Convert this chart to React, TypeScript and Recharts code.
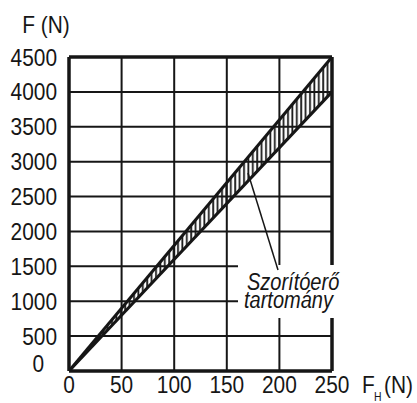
import React from "react"
import { ComposedChart, Line, Area, XAxis, YAxis, CartesianGrid, ReferenceLine } from "recharts"

// F_H (N) -> F (N), clamping force range
const forceH = [0, 250]
const forceUpper = [0, 4500]
const forceLower = [0, 4000]

const xTicks = [0, 50, 100, 150, 200, 250]
const yTicks = [0, 500, 1000, 1500, 2000, 2500, 3000, 3500, 4000, 4500]

const data = forceH.map((h, i) => ({
  h,
  upper: forceUpper[i],
  lower: forceLower[i],
  band: [forceLower[i], forceUpper[i]],
}))

const FONT = "'Liberation Sans', Arial, sans-serif"
const INK = "#161616"
const SQUEEZE = 0.87

// narrow text: regular sans squeezed horizontally
function Narrow({ x, y, anchor = "start", size = 24, italic = false, children }: any) {
  return (
    <text
      transform={`translate(${x},${y}) scale(${SQUEEZE},1)`}
      textAnchor={anchor}
      fontFamily={FONT}
      fontSize={size}
      fontStyle={italic ? "italic" : "normal"}
      fill={INK}
    >
      {children}
    </text>
  )
}

function YTick(props: any) {
  const { x, y, payload } = props
  const zero = payload.value === 0
  return (
    <Narrow x={zero ? x - 13 : x} y={(zero ? y - 8 : y) + 8.5} anchor="end">
      {payload.value}
    </Narrow>
  )
}

function XTick(props: any) {
  const { x, y, payload } = props
  return (
    <Narrow x={x} y={y + 17} anchor="middle">
      {payload.value}
    </Narrow>
  )
}

export default function App() {
  return (
    <div style={{ position: "absolute", left: 0, top: 0, width: 417, height: 403, background: "#fff" }}>
      <ComposedChart
        width={417}
        height={403}
        data={data}
        margin={{ top: 57, right: 85, left: 9, bottom: 0 }}
      >
        <defs>
          <pattern id="hatch" patternUnits="userSpaceOnUse" width="4.4" height="10">
            <line x1="2" y1="0" x2="2" y2="10" stroke={INK} strokeWidth="1.8" />
          </pattern>
        </defs>
        <CartesianGrid stroke={INK} strokeWidth={2} strokeOpacity={1} />
        <XAxis
          dataKey="h"
          type="number"
          domain={[0, 250]}
          ticks={xTicks}
          height={32}
          tickLine={false}
          tickSize={0}
          tickMargin={5}
          axisLine={{ stroke: INK, strokeWidth: 3.5 }}
          tick={<XTick />}
          interval={0}
        />
        <YAxis
          type="number"
          domain={[0, 4500]}
          ticks={yTicks}
          width={60}
          tickLine={false}
          tickSize={0}
          tickMargin={12}
          axisLine={{ stroke: INK, strokeWidth: 3.5 }}
          tick={<YTick />}
          interval={0}
        />
        <ReferenceLine y={4500} stroke={INK} strokeWidth={3.5} />
        <ReferenceLine x={250} stroke={INK} strokeWidth={3.5} />
        <Area
          dataKey="band"
          type="linear"
          fill="url(#hatch)"
          fillOpacity={1}
          stroke="none"
          isAnimationActive={false}
        />
        <Line dataKey="upper" type="linear" stroke={INK} strokeWidth={3} dot={false} isAnimationActive={false} />
        <Line dataKey="lower" type="linear" stroke={INK} strokeWidth={3} dot={false} isAnimationActive={false} />
      </ComposedChart>
      <svg
        width={417}
        height={403}
        style={{ position: "absolute", left: 0, top: 0, pointerEvents: "none" }}
      >
        <Narrow x={46} y={33} anchor="middle">F (N)</Narrow>
        <Narrow x={362} y={393}>F</Narrow>
        <Narrow x={374} y={401} size={12}>H</Narrow>
        <Narrow x={384} y={393}>(N)</Narrow>
        <rect x={238} y={265} width={108} height={53} fill="#fff" />
        <line x1={248} y1={173} x2={278} y2={270} stroke={INK} strokeWidth={1.5} />
        <Narrow x={247} y={290} size={23} italic>Szorítóerő</Narrow>
        <Narrow x={244} y={308} size={23} italic>tartomány</Narrow>
      </svg>
    </div>
  )
}
